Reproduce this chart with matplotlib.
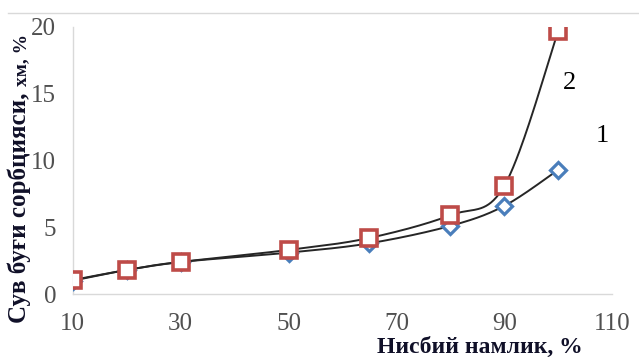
import numpy as np
import matplotlib.pyplot as plt
from matplotlib.lines import Line2D

# relative humidity, %
humidity = [10, 20, 30, 50, 65, 80, 90, 100]
# water vapour sorption, %
sorption_1 = [1.0, 1.8, 2.4, 3.1, 3.8, 5.1, 6.6, 9.3]
sorption_2 = [1.05, 1.8, 2.4, 3.3, 4.2, 5.9, 8.1, 19.7]

x_ticks = [10, 30, 50, 70, 90, 110]
y_ticks = [0, 5, 10, 15, 20]


def smooth(x, y, xr, yr, n=40):
    """Excel-like smoothed line: cubic Bezier through the points."""
    p = np.column_stack([np.asarray(x, float) / xr, np.asarray(y, float) / yr])
    out = []
    for i in range(len(p) - 1):
        p0 = p[i - 1] if i > 0 else p[i]
        p1, p2 = p[i], p[i + 1]
        p3 = p[i + 2] if i + 2 < len(p) else p[i + 1]
        c1 = p1 + (p2 - p0) / 6
        c2 = p2 - (p3 - p1) / 6
        t = np.linspace(0, 1, n)[:, None]
        seg = ((1 - t) ** 3 * p1 + 3 * (1 - t) ** 2 * t * c1
               + 3 * (1 - t) * t ** 2 * c2 + t ** 3 * p2)
        out.append(seg)
    pts = np.vstack(out)
    return pts[:, 0] * xr, pts[:, 1] * yr


plt.rcParams['font.family'] = ['Liberation Serif', 'DejaVu Serif']
label_color = '#101028'

fig = plt.figure(figsize=(6.39, 3.63), dpi=100)
ax = fig.add_axes([0.114, 0.19, 0.844, 0.736])

xr, yr = 100.0, 20.0 * 0.5
for ys in (sorption_1, sorption_2):
    sx, sy = smooth(humidity, ys, xr, yr)
    ax.plot(sx, sy, color='#262626', lw=1.4, zorder=2)

ax.plot(humidity, sorption_1, ls='none', marker='D', ms=8, mfc='white',
        mec='#4a7ebb', mew=2.3, zorder=3)
ax.plot(humidity, sorption_2, ls='none', marker='s', ms=11.5, mfc='white',
        mec='#be4b48', mew=2.6, zorder=4)

ax.text(102.0, 15.8, '2', fontsize=19, color='black', ha='center', va='center')
ax.text(108.2, 11.8, '1', fontsize=19, color='black', ha='center', va='center')

ax.set_xlim(10, 110)
ax.set_ylim(0, 20)
ax.set_xticks(x_ticks)
ax.set_yticks(y_ticks)
ax.tick_params(length=0, labelsize=18, labelcolor='#505050')
ax.tick_params(axis='x', pad=14)
ax.tick_params(axis='y', pad=12)
for side in ('top', 'right'):
    ax.spines[side].set_visible(False)
for side in ('left', 'bottom'):
    ax.spines[side].set_color('#d9d9d9')
    ax.spines[side].set_linewidth(1.0)

ax.set_xlabel('Нисбий намлик, %', fontsize=17, fontweight='bold',
              color=label_color)
ax.xaxis.set_label_coords(0.755, -0.16)

# y label: main part, then the smaller units
W, H = 639, 363
ylab = fig.text(26 / W, 1 - 323 / H, 'Сув буғи сорбцияси, ', fontsize=18,
                fontweight='bold', color=label_color, rotation=90,
                rotation_mode='anchor', ha='left', va='baseline')
renderer = fig.canvas.get_renderer()
bb = ylab.get_window_extent(renderer)
fig.text(26 / W, bb.y1 / H, 'хм, %', fontsize=14, fontweight='bold',
         color=label_color, rotation=90, rotation_mode='anchor',
         ha='left', va='baseline')

# chart-area top border
fig.add_artist(Line2D([8 / W, 1], [1 - 13 / H] * 2, color='#d9d9d9', lw=1.0))

fig.savefig('out.png', dpi=100)
